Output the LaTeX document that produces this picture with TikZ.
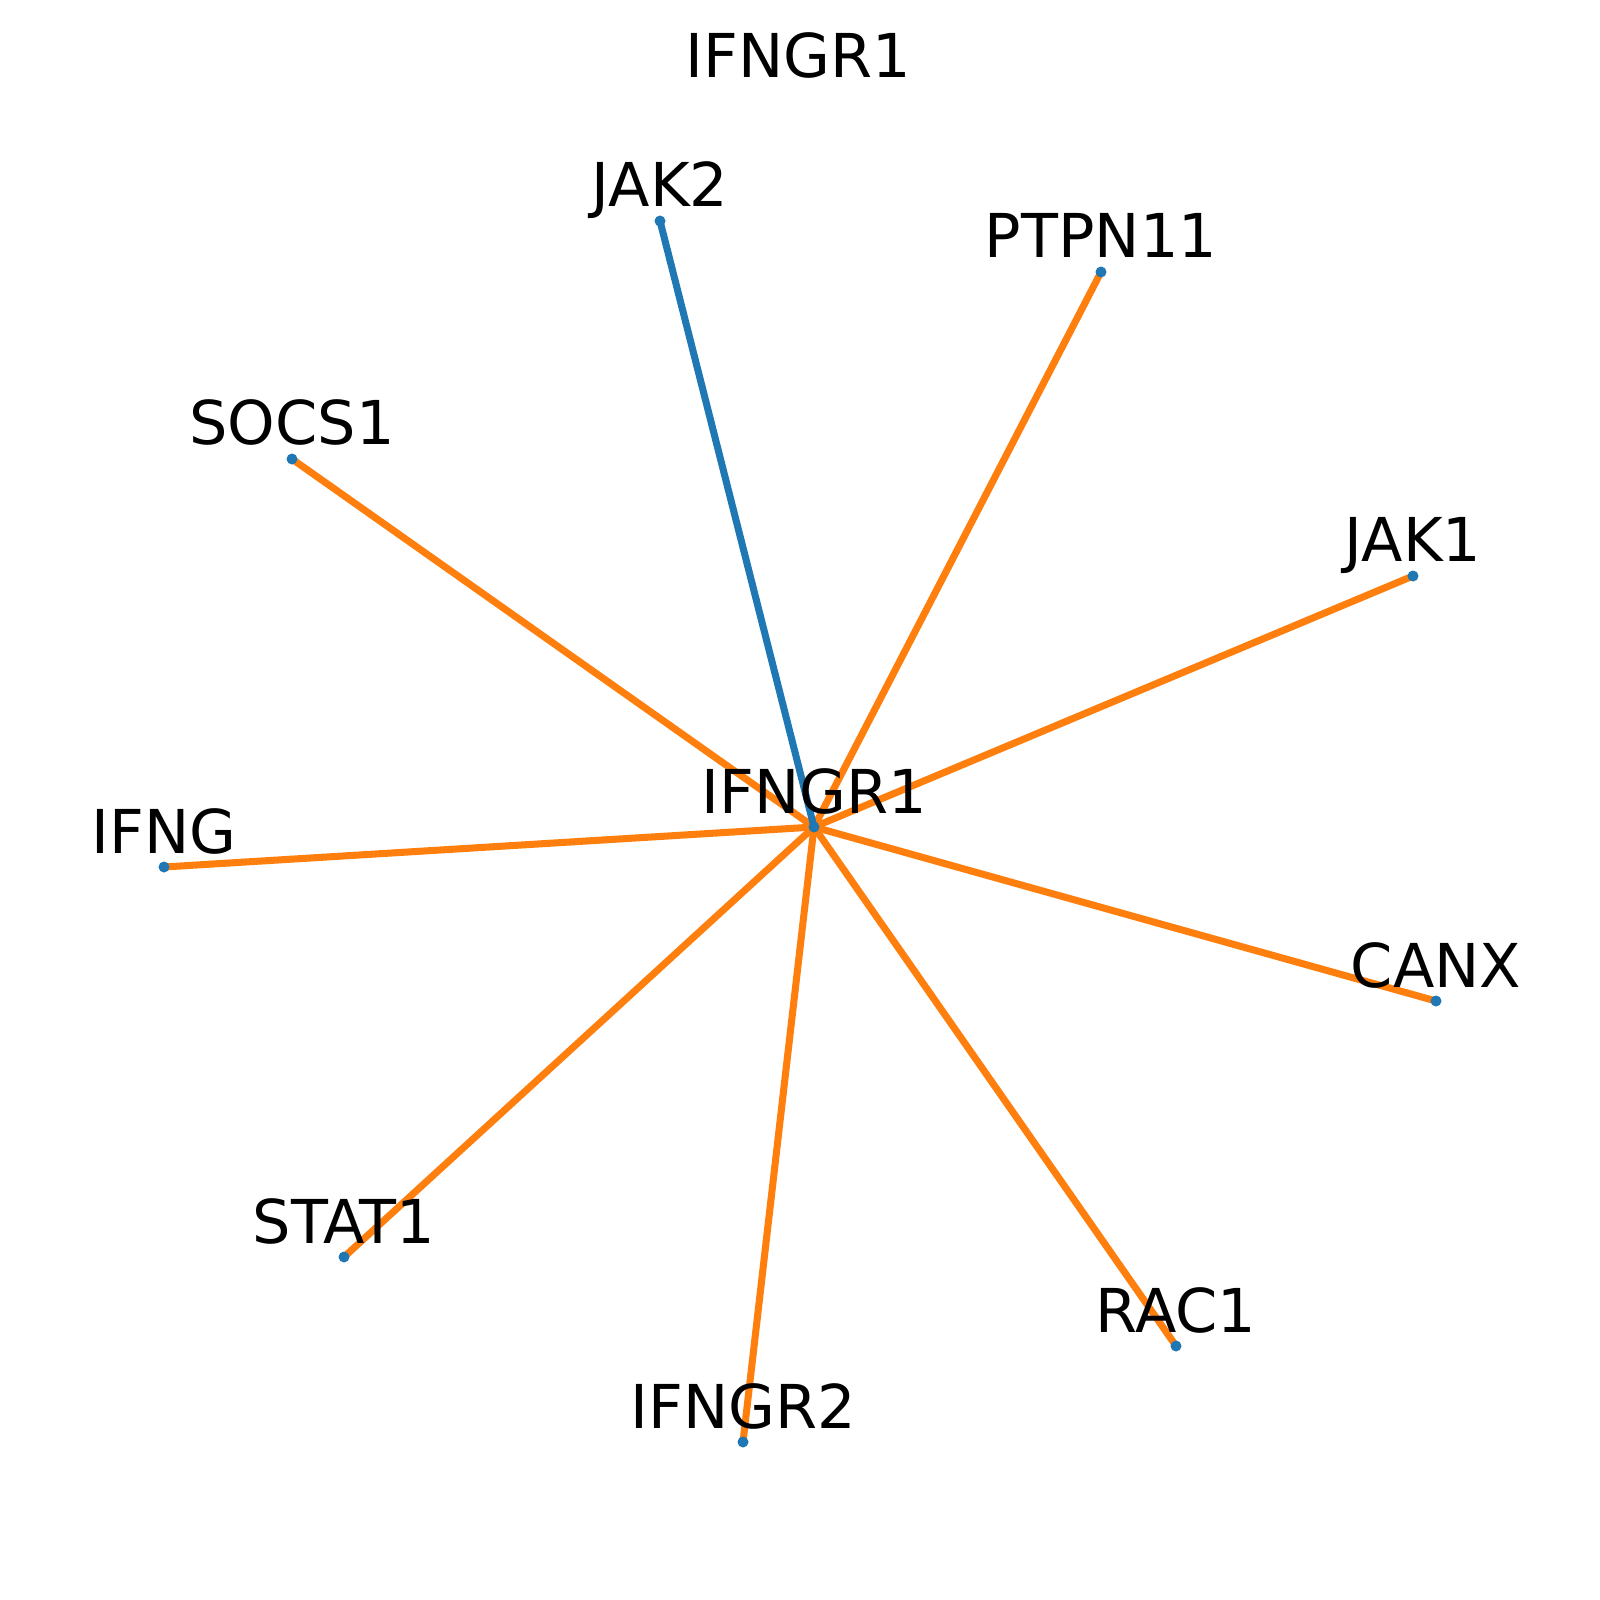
\documentclass[tikz,border=0pt]{standalone}
\usepackage{fontspec}
\setmainfont{DejaVu Sans}
\definecolor{mblue}{HTML}{1F77B4}
\definecolor{morange}{HTML}{FF7F0E}
\begin{document}
\begin{tikzpicture}[x=0.01cm,y=-0.01cm,
  vert/.style={circle,fill=mblue,inner sep=0pt,minimum size=11*0.2845pt},
  lbl/.style={anchor=base,inner sep=0pt,font=\fontsize{17.2pt}{20pt}\selectfont},
  oedge/.style={draw=morange,line width=2pt},
  bedge/.style={draw=mblue,line width=2pt}]
\useasboundingbox (0,0) rectangle (1600,1600);
\coordinate (c) at (814,827);
\coordinate (jak2) at (660,221);
\coordinate (ptpn11) at (1101,272);
\coordinate (socs1) at (292,459);
\coordinate (jak1) at (1413,576);
\coordinate (ifng) at (164,867);
\coordinate (canx) at (1436,1001);
\coordinate (stat1) at (344,1257);
\coordinate (rac1) at (1176,1346);
\coordinate (ifngr2) at (743,1442);
\draw[oedge] (c) -- (ptpn11);
\draw[oedge] (c) -- (socs1);
\draw[oedge] (c) -- (jak1);
\draw[oedge] (c) -- (ifng);
\draw[oedge] (c) -- (canx);
\draw[oedge] (c) -- (stat1);
\draw[oedge] (c) -- (rac1);
\draw[oedge] (c) -- (ifngr2);
\draw[bedge] (c) -- (jak2);
\foreach \n in {c,jak2,ptpn11,socs1,jak1,ifng,canx,stat1,rac1,ifngr2}
  \node[vert] (v\n) at (\n) {};
\node[lbl] (lc) at ([yshift=14*0.2845pt]c) {IFNGR1};
\node[lbl] (ljak2) at ([yshift=14*0.2845pt]jak2) {JAK2};
\node[lbl] (lptpn11) at ([yshift=14*0.2845pt]ptpn11) {PTPN11};
\node[lbl] (lsocs1) at ([yshift=14*0.2845pt]socs1) {SOCS1};
\node[lbl] (ljak1) at ([yshift=14*0.2845pt]jak1) {JAK1};
\node[lbl] (lifng) at ([yshift=14*0.2845pt]ifng) {IFNG};
\node[lbl] (lcanx) at ([yshift=14*0.2845pt]canx) {CANX};
\node[lbl] (lstat1) at ([yshift=14*0.2845pt]stat1) {STAT1};
\node[lbl] (lrac1) at ([yshift=14*0.2845pt]rac1) {RAC1};
\node[lbl] (lifngr2) at ([yshift=14*0.2845pt]ifngr2) {IFNGR2};
\node[lbl] (title) at (798,78) {IFNGR1};
\end{tikzpicture}
\end{document}
